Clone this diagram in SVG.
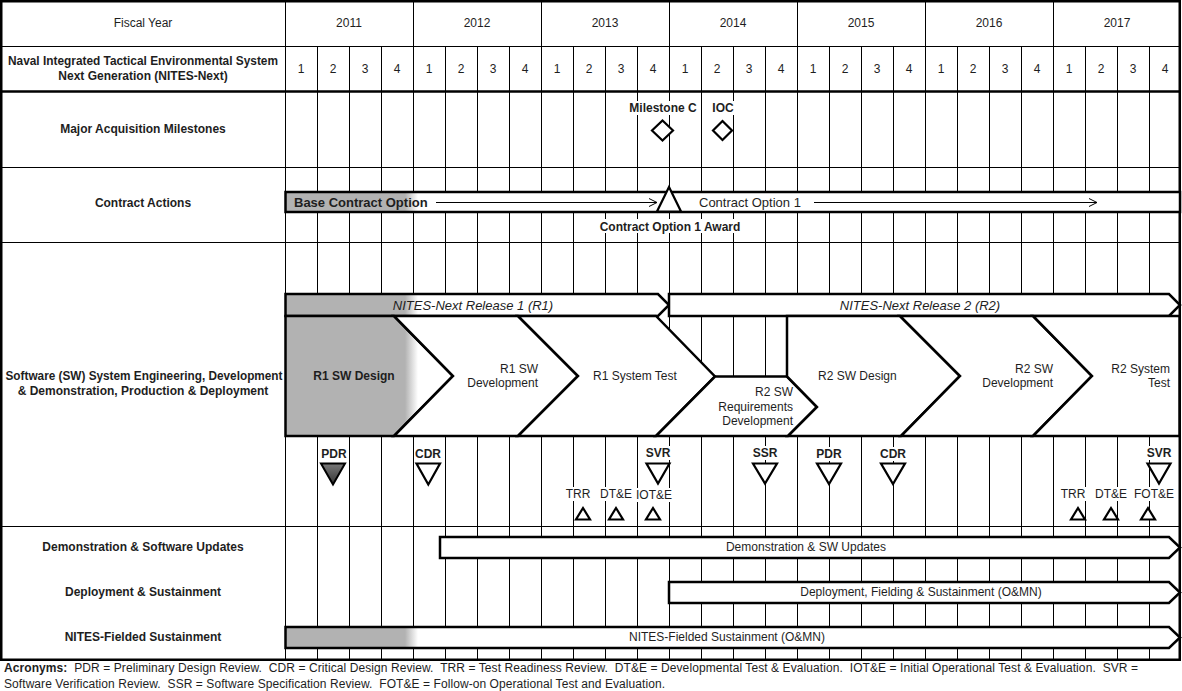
<svg xmlns="http://www.w3.org/2000/svg" width="1182" height="691" viewBox="0 0 1182 691">
<style>
.t{font-family:"Liberation Sans",Arial,sans-serif;font-size:12px;fill:#1e1e1e}
.b{font-weight:bold}
.i{font-style:italic;font-size:13px}
.c{text-anchor:middle}
.e{text-anchor:end}
.grid{stroke:#000;stroke-width:1;fill:none}
.shape{stroke:#000;stroke-width:2.5;stroke-linejoin:miter}
.w{fill:#fff}
.g{fill:url(#fade)}
.bg{fill:#fff}
.ms{fill:#fff;stroke:#000;stroke-width:2.2}
.arr{stroke:#000;stroke-width:1;fill:none}
</style>
<defs>
<linearGradient id="fade" gradientUnits="userSpaceOnUse" x1="405" y1="0" x2="418" y2="0">
<stop offset="0" stop-color="#b2b2b2"/>
<stop offset="1" stop-color="#ffffff"/>
</linearGradient>
<linearGradient id="dark" x1="0" y1="0" x2="0" y2="1">
<stop offset="0" stop-color="#7a7a7a"/>
<stop offset="1" stop-color="#333"/>
</linearGradient>
<marker id="open" markerUnits="userSpaceOnUse" markerWidth="10" markerHeight="10" refX="9" refY="5" orient="auto">
<path d="M1,1 L9,5 L1,9" fill="none" stroke="#000" stroke-width="1"/>
</marker>
</defs>
<rect x="0" y="0" width="1182" height="691" fill="#fff"/>

<g id="grid">
<path class="grid" d="M317.5 46V660 M349.5 46V660 M381.5 46V660 M445.5 46V660 M477.5 46V660 M509.5 46V660 M573.5 46V660 M605.5 46V660 M637.5 46V660 M701.5 46V660 M733.5 46V660 M765.5 46V660 M829.5 46V660 M861.5 46V660 M893.5 46V660 M957.5 46V660 M989.5 46V660 M1021.5 46V660 M1085.5 46V660 M1117.5 46V660 M1149.5 46V660"/>
<path class="grid" d="M285.5 0V660 M413.5 0V660 M541.5 0V660 M669.5 0V660 M797.5 0V660 M925.5 0V660 M1053.5 0V660"/>
<path class="grid" d="M0 46.5H1181 M0 167.5H1181 M0 242.5H1181 M0 526.5H1181"/>
<path d="M0 91.5H1181" stroke="#000" stroke-width="2.5"/>
<rect x="1.25" y="1.25" width="1178.5" height="658.5" fill="none" stroke="#000" stroke-width="2.5"/>
</g>

<g id="header">
<text class="t c" x="143" y="27">Fiscal Year</text>
<text class="t c" x="349" y="27">2011</text>
<text class="t c" x="477" y="27">2012</text>
<text class="t c" x="605" y="27">2013</text>
<text class="t c" x="733" y="27">2014</text>
<text class="t c" x="861" y="27">2015</text>
<text class="t c" x="989" y="27">2016</text>
<text class="t c" x="1117" y="27">2017</text>
<text class="t b c" x="143" y="65" textLength="270" lengthAdjust="spacingAndGlyphs">Naval Integrated Tactical Environmental System</text>
<text class="t b c" x="143" y="80">Next Generation (NITES-Next)</text>
<g class="q">
<text class="t c" x="301" y="73">1</text><text class="t c" x="333" y="73">2</text><text class="t c" x="365" y="73">3</text><text class="t c" x="397" y="73">4</text>
<text class="t c" x="429" y="73">1</text><text class="t c" x="461" y="73">2</text><text class="t c" x="493" y="73">3</text><text class="t c" x="525" y="73">4</text>
<text class="t c" x="557" y="73">1</text><text class="t c" x="589" y="73">2</text><text class="t c" x="621" y="73">3</text><text class="t c" x="653" y="73">4</text>
<text class="t c" x="685" y="73">1</text><text class="t c" x="717" y="73">2</text><text class="t c" x="749" y="73">3</text><text class="t c" x="781" y="73">4</text>
<text class="t c" x="813" y="73">1</text><text class="t c" x="845" y="73">2</text><text class="t c" x="877" y="73">3</text><text class="t c" x="909" y="73">4</text>
<text class="t c" x="941" y="73">1</text><text class="t c" x="973" y="73">2</text><text class="t c" x="1005" y="73">3</text><text class="t c" x="1037" y="73">4</text>
<text class="t c" x="1069" y="73">1</text><text class="t c" x="1101" y="73">2</text><text class="t c" x="1133" y="73">3</text><text class="t c" x="1165" y="73">4</text>
</g>
</g>

<g id="row-labels">
<text class="t b c" x="143" y="133">Major Acquisition Milestones</text>
<text class="t b c" x="143" y="207">Contract Actions</text>
<text class="t b c" x="144" y="380" textLength="277" lengthAdjust="spacingAndGlyphs">Software (SW) System Engineering, Development</text>
<text class="t b c" x="143" y="395">&amp; Demonstration, Production &amp; Deployment</text>
<text class="t b c" x="143" y="551">Demonstration &amp; Software Updates</text>
<text class="t b c" x="143" y="596">Deployment &amp; Sustainment</text>
<text class="t b c" x="143" y="641">NITES-Fielded Sustainment</text>
</g>

<g id="milestone-c">
<rect class="bg" x="630" y="101" width="68" height="14"/>
<text class="t b c" x="663" y="112">Milestone C</text>
<polygon class="ms" points="662.5,120.5 673,130.5 662.5,140.5 652,130.5"/>
</g>
<g id="ioc">
<rect class="bg" x="711" y="101" width="24" height="14"/>
<text class="t b c" x="723" y="112">IOC</text>
<polygon class="ms" points="722.5,121 732,130.5 722.5,140 713,130.5"/>
</g>

<g id="contract-bar">
<rect class="shape g" x="285.5" y="192" width="894.5" height="20"/>
<text class="t b" x="294" y="207" style="font-size:13px">Base Contract Option</text>
<text class="t" x="699" y="207" style="font-size:13px">Contract Option 1</text>
</g>
<g id="contract-award">
<polygon class="ms" points="669,187 681,211.5 657,211.5"/>
<rect class="bg" x="598" y="219" width="144" height="14"/>
<text class="t b c" x="670" y="231">Contract Option 1 Award</text>
</g>

<g id="release-1">
<polygon class="shape g" points="285.5,294 658,294 669,305 658,316 285.5,316"/>
<text class="t i c" x="473" y="310">NITES-Next Release 1 (R1)</text>
</g>
<g id="release-2">
<polygon class="shape w" points="669,294 1169,294 1180,305 1169,316 669,316"/>
<text class="t i c" x="920" y="310">NITES-Next Release 2 (R2)</text>
</g>

<g id="r1-sw-design">
<polygon class="shape g" points="285.5,316 394,316 453,376 394,436 285.5,436"/>
<text class="t b c" x="354" y="380">R1 SW Design</text>
</g>
<g id="r1-sw-dev">
<polygon class="shape w" points="394,316 518,316 578,376 518,436 394,436 453,376"/>
<text class="t e" x="538" y="373">R1 SW</text>
<text class="t e" x="538" y="387">Development</text>
</g>
<g id="r1-system-test">
<polygon class="shape w" points="518,316 656,316 715,376.5 656,436 518,436 578,376"/>
<text class="t" x="593" y="380">R1 System Test</text>
</g>
<g id="r2-req-dev">
<polygon class="shape w" points="715,376.5 787,376.5 817,407 788,436 656,436"/>
<text class="t e" x="793" y="396">R2 SW</text>
<text class="t e" x="793" y="411">Requirements</text>
<text class="t e" x="793" y="425">Development</text>
</g>
<g id="r2-sw-design">
<polygon class="shape w" points="787,316 900,316 960,376 901,436 788,436 817,407 787,376.5"/>
<text class="t" x="818" y="380">R2 SW Design</text>
</g>
<g id="r2-sw-dev">
<polygon class="shape w" points="900,316 1033,316 1092,376 1033,436 901,436 960,376"/>
<text class="t e" x="1053" y="373">R2 SW</text>
<text class="t e" x="1053" y="387">Development</text>
</g>
<g id="r2-system-test">
<polygon class="shape w" points="1033,316 1179.5,316 1179.5,436 1033,436 1092,376"/>
<text class="t e" x="1170" y="373">R2 System</text>
<text class="t e" x="1170" y="387">Test</text>
</g>

<g id="reviews">
<g id="pdr-1"><rect class="bg" x="319" y="447" width="30" height="14"/><text class="t b c" x="334" y="458">PDR</text><polygon points="321,463.5 345,463.5 333,484.5" fill="url(#dark)" stroke="#000" stroke-width="2"/></g>
<g id="cdr-1"><rect class="bg" x="414" y="447" width="30" height="14"/><text class="t b c" x="428" y="458">CDR</text><polygon class="ms" points="416.5,463.5 440,463.5 428.3,484.5"/></g>
<g id="svr-1"><rect class="bg" x="644" y="446" width="28" height="14"/><text class="t b c" x="658" y="457">SVR</text><polygon class="ms" points="646.5,463.5 669.5,463.5 658,483.5"/></g>
<g id="ssr"><rect class="bg" x="751" y="446" width="28" height="14"/><text class="t b c" x="765" y="457">SSR</text><polygon class="ms" points="753,463.5 777,463.5 765,483.5"/></g>
<g id="pdr-2"><rect class="bg" x="814" y="447" width="30" height="14"/><text class="t b c" x="829" y="458">PDR</text><polygon class="ms" points="817,463.5 841,463.5 829,484"/></g>
<g id="cdr-2"><rect class="bg" x="878" y="447" width="30" height="14"/><text class="t b c" x="893" y="458">CDR</text><polygon class="ms" points="881,463.5 905,463.5 893,484"/></g>
<g id="svr-2"><rect class="bg" x="1145" y="446" width="28" height="14"/><text class="t b c" x="1159" y="457">SVR</text><polygon class="ms" points="1147.5,463.5 1170.5,463.5 1159,483.5"/></g>
<g id="trr-1"><rect class="bg" x="565" y="487" width="26" height="14"/><text class="t c" x="578" y="498">TRR</text><polygon class="ms" points="576,519.5 590,519.5 583,508"/></g>
<g id="dte-1"><rect class="bg" x="598" y="487" width="36" height="14"/><text class="t c" x="616" y="498">DT&amp;E</text><polygon class="ms" points="609,519.5 623,519.5 616,508"/></g>
<g id="iote"><rect class="bg" x="636" y="488" width="37" height="14"/><text class="t c" x="654" y="499">IOT&amp;E</text><polygon class="ms" points="646,519.5 660,519.5 653,508"/></g>
<g id="trr-2"><rect class="bg" x="1060" y="487" width="26" height="14"/><text class="t c" x="1073" y="498">TRR</text><polygon class="ms" points="1071,519.5 1085,519.5 1078,508"/></g>
<g id="dte-2"><rect class="bg" x="1093" y="487" width="36" height="14"/><text class="t c" x="1111" y="498">DT&amp;E</text><polygon class="ms" points="1104,519.5 1118,519.5 1111,508"/></g>
<g id="fote"><rect class="bg" x="1134" y="487" width="41" height="14"/><text class="t c" x="1154" y="498">FOT&amp;E</text><polygon class="ms" points="1141,519.5 1155,519.5 1148,508"/></g>
</g>

<g id="demo-bar">
<polygon class="shape w" points="440,537 1169,537 1180,547.5 1169,558 440,558"/>
<text class="t c" x="806" y="551">Demonstration &amp; SW Updates</text>
</g>
<g id="deploy-bar">
<polygon class="shape w" points="669,582 1169,582 1180,592.5 1169,603 669,603"/>
<text class="t c" x="921" y="596">Deployment, Fielding &amp; Sustainment (O&amp;MN)</text>
</g>
<g id="fielded-bar">
<polygon class="shape g" points="285.5,627 1169,627 1180,637.5 1169,648 285.5,648"/>
<text class="t c" x="727" y="641">NITES-Fielded Sustainment (O&amp;MN)</text>
</g>

<g id="connectors">
<line class="arr" x1="436" y1="202.5" x2="657" y2="202.5" marker-end="url(#open)"/>
<line class="arr" x1="814" y1="202.5" x2="1097" y2="202.5" marker-end="url(#open)"/>
</g>

<g id="acronyms">
<text class="t" x="4" y="672" xml:space="preserve" textLength="1134" lengthAdjust="spacing"><tspan class="b">Acronyms:</tspan>  PDR = Preliminary Design Review.  CDR = Critical Design Review.  TRR = Test Readiness Review.  DT&amp;E = Developmental Test &amp; Evaluation.  IOT&amp;E = Initial Operational Test &amp; Evaluation.  SVR =</text>
<text class="t" x="4" y="688" xml:space="preserve" textLength="661" lengthAdjust="spacing">Software Verification Review.  SSR = Software Specification Review.  FOT&amp;E = Follow-on Operational Test and Evaluation.</text>
</g>
</svg>
